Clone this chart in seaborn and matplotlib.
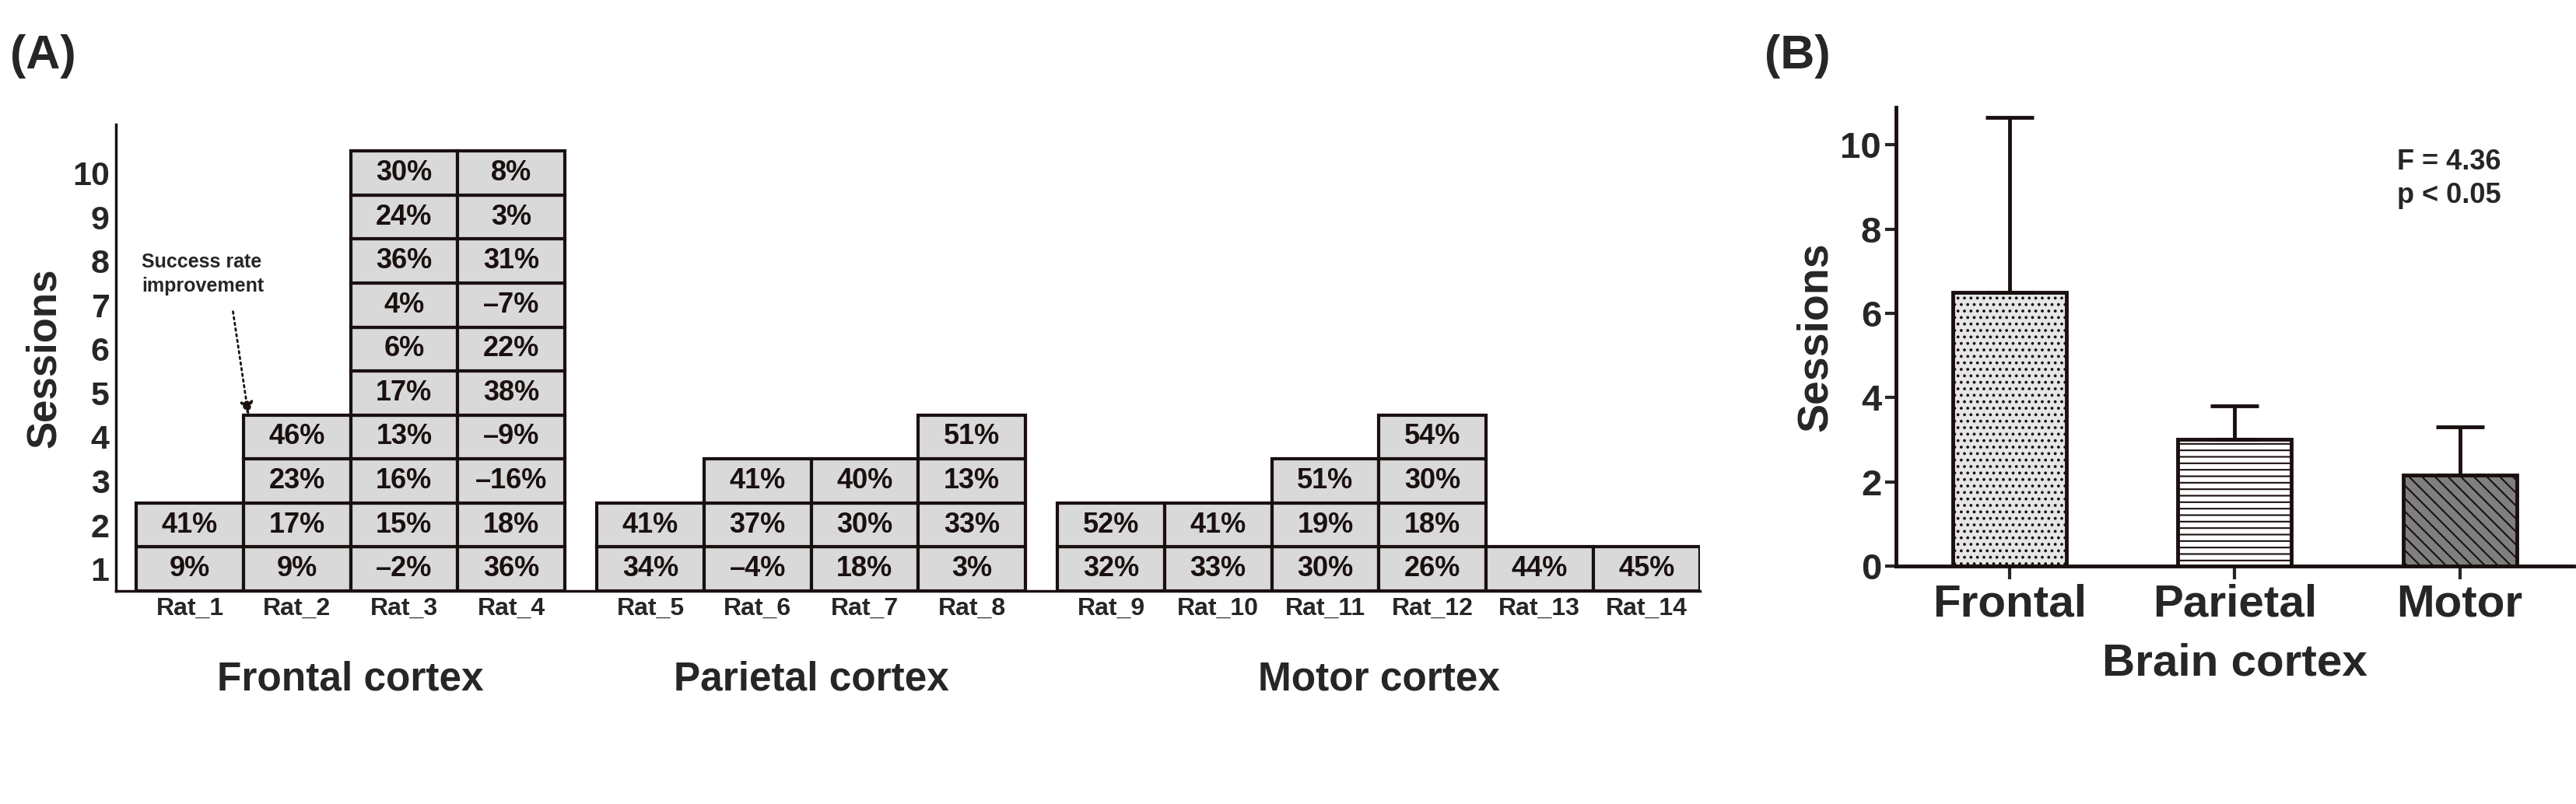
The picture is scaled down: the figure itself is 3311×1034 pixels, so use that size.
import matplotlib
matplotlib.use("Agg")
import matplotlib.pyplot as plt
import seaborn as sns
import pandas as pd
import numpy as np

sns.set_theme(style="white")
plt.rcParams['font.family'] = ['Liberation Sans', 'DejaVu Sans']
plt.rcParams['font.weight'] = 'bold'
plt.rcParams['hatch.linewidth'] = 1.5

rats = [f"Rat_{i}" for i in range(1, 15)]
improvement = [
    [9, 41],
    [9, 17, 23, 46],
    [-2, 15, 16, 13, 17, 6, 4, 36, 24, 30],
    [36, 18, -16, -9, 38, 22, -7, 31, 3, 8],
    [34, 41],
    [-4, 37, 41],
    [18, 30, 40],
    [3, 33, 13, 51],
    [32, 52],
    [33, 41],
    [30, 19, 51],
    [26, 18, 30, 54],
    [44],
    [45],
]
groups = ["Frontal cortex", "Parietal cortex", "Motor cortex"]
group_of_rat = [0]*4 + [1]*4 + [2]*6

cortex = ["Frontal", "Parietal", "Motor"]
mean_sessions = [6.5, 3.0, 2.15]
sd_sessions = [4.15, 0.8, 1.15]

fig = plt.figure(figsize=(33.11, 10.34), dpi=100)

# ---------- Panel A ----------
axA = fig.add_axes([0.045, 0.265, 0.615, 0.58])
gap = 0.3
xpos = [i + gap*g for i, g in enumerate(group_of_rat)]
for x, vals in zip(xpos, improvement):
    n = len(vals)
    axA.bar([x]*n, [1]*n, bottom=np.arange(n), width=1.0, color="#d9d9d9",
            edgecolor="#1a1010", linewidth=3)
    for k, v in enumerate(vals):
        s = f"{v}%".replace("-", "\u2013")
        axA.text(x, k + 0.5, s, ha="center", va="center", fontsize=26,
                 fontweight="bold", color="#1a1010")
axA.set_xlim(-0.69, xpos[-1] + 0.5)
axA.set_ylim(0, 10.6)
axA.set_yticks(np.arange(10) + 0.5)
axA.set_yticklabels([str(i) for i in range(1, 11)], fontsize=31, fontweight="bold")
axA.set_xticks(xpos)
axA.set_xticklabels(rats, fontsize=23, fontweight="bold")
axA.tick_params(axis="both", length=0, pad=6)
for sp in ["top", "right"]:
    axA.spines[sp].set_visible(False)
for sp in ["left", "bottom"]:
    axA.spines[sp].set_color("#1a1010")
    axA.spines[sp].set_linewidth(2.5)
axA.set_ylabel("Sessions", fontsize=38, fontweight="bold", labelpad=8)
for g, name in enumerate(groups):
    xs = [x for x, gg in zip(xpos, group_of_rat) if gg == g]
    axA.text(np.mean(xs), -0.19, name, transform=axA.get_xaxis_transform(),
             ha="center", va="center", fontsize=37, fontweight="bold")
axA.text(-0.45, 7.2, "Success rate\nimprovement", ha="left", va="center",
         fontsize=18, fontweight="bold", linespacing=1.4)
axA.annotate("", xy=(xpos[1] - 0.45, 3.95), xytext=(0.4, 6.4),
             arrowprops=dict(arrowstyle="-|>", linestyle=":", color="#1a1010",
                             lw=2, mutation_scale=25))
fig.text(0.004, 0.93, "(A)", fontsize=44, fontweight="bold", va="center")

# ---------- Panel B ----------
axB = fig.add_axes([0.736, 0.296, 0.263, 0.571])
df = pd.DataFrame({"cortex": cortex, "sessions": mean_sessions})
sns.barplot(data=df, x="cortex", y="sessions", ax=axB, width=0.505,
            errorbar=None, edgecolor="#1a1010", linewidth=3.5)
colors = ["#e6e6e6", "white", "#7f7f7f"]
hatches = ["..", "--", "\\\\"]
for p, c, h in zip(axB.patches, colors, hatches):
    p.set_facecolor(c)
    p.set_hatch(h)
axB.errorbar(range(3), mean_sessions, yerr=[[0]*3, sd_sessions], fmt="none",
             ecolor="#1a1010", elinewidth=3.5, capsize=22, capthick=3.5)
axB.set_xlim(-0.505, 2.505)
axB.set_ylim(0, 10.9)
axB.set_yticks([0, 2, 4, 6, 8, 10])
axB.tick_params(axis="y", labelsize=34, length=10, width=3, direction="out", left=True)
axB.tick_params(axis="x", labelsize=42, length=12, width=3, direction="out", bottom=True, pad=4)
for lab in axB.get_xticklabels() + axB.get_yticklabels():
    lab.set_fontweight("bold")
for sp in ["top", "right"]:
    axB.spines[sp].set_visible(False)
for sp in ["left", "bottom"]:
    axB.spines[sp].set_color("#1a1010")
    axB.spines[sp].set_linewidth(3.5)
axB.set_ylabel("Sessions", fontsize=40, fontweight="bold")
axB.set_xlabel("Brain cortex", fontsize=42, fontweight="bold", labelpad=16)
axB.text(0.74, 0.91, "F = 4.36\np < 0.05", transform=axB.transAxes, fontsize=26,
         fontweight="bold", va="top", ha="left", linespacing=1.3)
fig.text(0.685, 0.93, "(B)", fontsize=44, fontweight="bold", va="center")

fig.savefig("out.png", dpi=100)
